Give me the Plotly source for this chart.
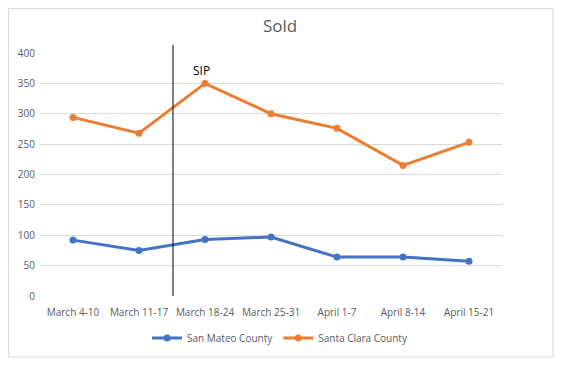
import plotly.graph_objects as go

weeks = ["March 4-10", "March 11-17", "March 18-24", "March 25-31", "April 1-7", "April 8-14", "April 15-21"]
san_mateo = [92, 75, 93, 97, 64, 64, 57]
santa_clara = [294, 268, 350, 300, 276, 215, 253]
y_ticks = [0, 50, 100, 150, 200, 250, 300, 350, 400]
sip_pos = 1.515
sip_label = "SIP"

# page body has an 8px margin: the figure is placed at (8, 8)
W, H = 554, 359
L, T = 32, 45
PW, PH = 462, 243
OFF = 8


def px_x(page_x):
    return (page_x - OFF - L) / PW


def px_y(page_y):
    return (T + PH - (page_y - OFF)) / PH


fig = go.Figure()
fig.add_trace(go.Scatter(x=list(range(len(weeks))), y=san_mateo, name="San Mateo County",
                         mode="lines+markers", line=dict(color="#4472C4", width=3),
                         marker=dict(size=7, color="#4472C4")))
fig.add_trace(go.Scatter(x=list(range(len(weeks))), y=santa_clara, name="Santa Clara County",
                         mode="lines+markers", line=dict(color="#ED7D31", width=3),
                         marker=dict(size=7, color="#ED7D31")))

fig.add_shape(type="line", xref="x", yref="paper", x0=sip_pos, x1=sip_pos, y0=0, y1=px_y(45),
              line=dict(color="black", width=1))
fig.add_annotation(x=1.94, y=372, xref="x", yref="y", text=sip_label, showarrow=False,
                   font=dict(size=12, color="black", family="Open Sans"))
# chart border (as close to the reference's page px 5..553, 4..357 as the figure allows)
fig.add_shape(type="rect", xref="paper", yref="paper",
              x0=px_x(8.5), x1=px_x(553), y0=px_y(357), y1=px_y(8.5),
              line=dict(color="#d9d9d9", width=1), layer="below")

fig.update_layout(
    width=W, height=H,
    margin=dict(l=L, r=W - L - PW, t=T, b=H - T - PH, autoexpand=False),
    paper_bgcolor="white", plot_bgcolor="white",
    font=dict(family="Open Sans", size=10, color="#595959"),
    title=dict(text="Sold", x=(280 - OFF) / W, xanchor="center", y=1 - (26 - OFF) / H, yanchor="middle",
               font=dict(size=17, color="#595959", family="Open Sans")),
    xaxis=dict(range=[-0.5, 6.5], tickmode="array", tickvals=list(range(len(weeks))), ticktext=weeks,
               showgrid=False, zeroline=False, showline=False, ticks="", tickfont=dict(size=10),
               automargin=False, ticklabelstandoff=9),
    yaxis=dict(range=[0, 400], tickvals=y_ticks, showgrid=True, gridcolor="#d9d9d9", gridwidth=1,
               zeroline=False, showline=False, ticks="", tickfont=dict(size=10), automargin=False,
               ticklabelstandoff=4),
    legend=dict(orientation="h", x=px_x(280), xanchor="center", y=px_y(338), yanchor="middle",
                font=dict(size=10, color="#595959")),
    showlegend=True,
)
fig.write_html("out.html")
